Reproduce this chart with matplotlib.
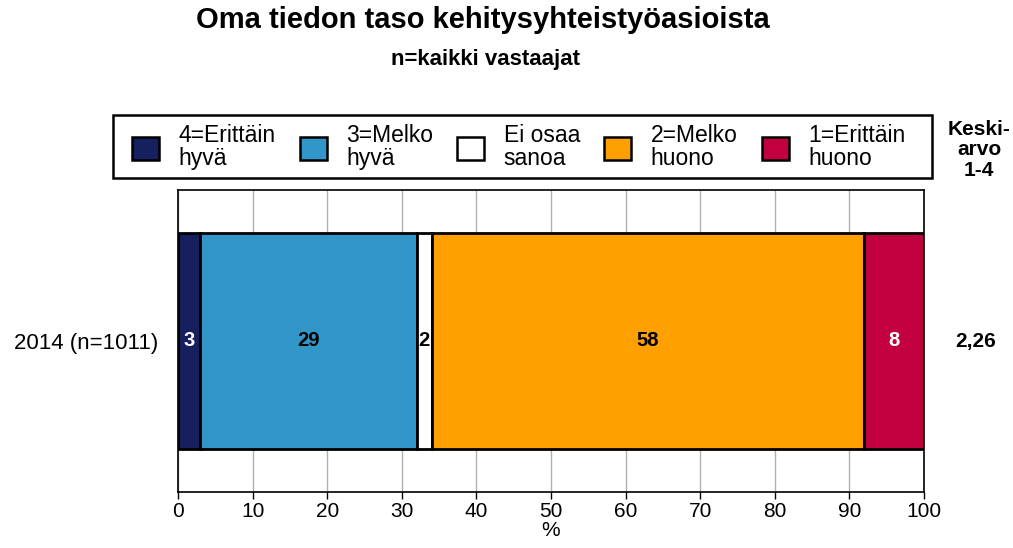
import matplotlib.pyplot as plt
from matplotlib.patches import Patch, Rectangle

plt.rcParams['font.family'] = ['Liberation Sans', 'DejaVu Sans']

categories = ['4=Erittäin\nhyvä', '3=Melko\nhyvä', 'Ei osaa\nsanoa', '2=Melko\nhuono', '1=Erittäin\nhuono']
values = [3, 29, 2, 58, 8]
colors = ['#17205f', '#3396c8', '#ffffff', '#ffa000', '#c2003f']
label_colors = ['white', 'black', 'black', 'black', 'white']
row_label = '2014 (n=1011)'
mean_value = '2,26'
xticks = list(range(0, 101, 10))

fig = plt.figure(figsize=(10.13, 5.48), dpi=100)
ax = fig.add_axes([178/1013, 1-492/548, (924-178)/1013, (492-190)/548])

left = 0
for v, c, tc in zip(values, colors, label_colors):
    ax.barh(0, v, left=left, height=0.712, color=c, edgecolor='black', linewidth=2, zorder=3)
    ax.text(left + v/2, 0, str(v), ha='center', va='center', fontsize=14.5,
            fontweight='bold', color=tc, zorder=4)
    left += v

ax.set_xlim(0, 100)
ax.set_ylim(-0.5, 0.5)
ax.set_xticks(xticks)
ax.tick_params(axis='x', labelsize=15, length=5, width=1, direction='out', pad=2)
ax.set_yticks([0])
ax.set_yticklabels([row_label], fontsize=16)
ax.tick_params(axis='y', length=0, pad=14)
ax.xaxis.grid(True, color='#b0b0b0', linewidth=1, zorder=0)
for s in ax.spines.values():
    s.set_linewidth(1.2)
ax.set_xlabel('%', fontsize=15, labelpad=0)

ax.text(1.042, 0.5, mean_value, transform=ax.transAxes, ha='left', va='center',
        fontsize=15, fontweight='bold')

fig.text(0.477, 1-20/548, 'Oma tiedon taso kehitysyhteistyöasioista', ha='center', va='center',
         fontsize=21, fontweight='bold')
fig.text(0.479, 1-60/548, 'n=kaikki vastaajat', ha='center', va='center',
         fontsize=16, fontweight='bold')
fig.text(979/1013, 1-150/548, 'Keski-\narvo\n1-4', ha='center', va='center',
         fontsize=15, fontweight='bold', linespacing=1.1)

# legend frame drawn separately so the padding matches
fig.patches.append(Rectangle((113/1013, 1-178/548), (932-113)/1013, 63/548,
                             transform=fig.transFigure, fill=False,
                             edgecolor='black', linewidth=1.8))

handles = [Patch(facecolor=c, edgecolor='black', linewidth=1.8) for c in colors]
leg = fig.legend(handles, categories, ncol=5,
                 bbox_to_anchor=(132/1013, 1-147/548),
                 loc='center left', fontsize=16.5, frameon=False,
                 handlelength=1.18, handleheight=1.18,
                 borderaxespad=0, borderpad=0, handletextpad=0.85, labelspacing=0,
                 columnspacing=1.05)
for t in leg.get_texts():
    t.set_linespacing(1.05)

fig.savefig('out.png', dpi=100)
